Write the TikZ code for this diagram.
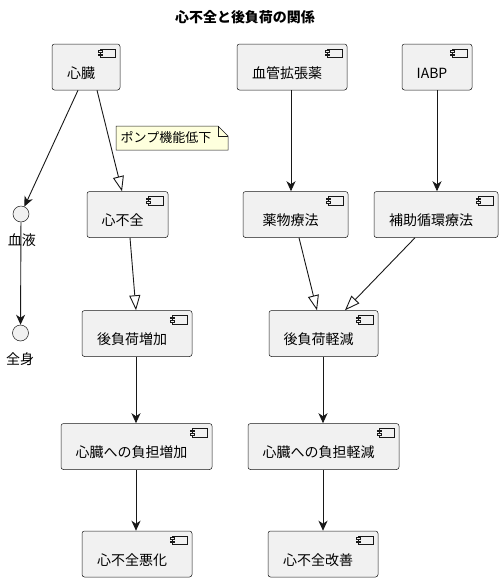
\documentclass[tikz,border=0pt]{standalone}
\usepackage{fontspec}
\setmainfont{Noto Sans CJK JP}
\usetikzlibrary{arrows.meta}
\definecolor{bfill}{HTML}{F1F1F1}
\definecolor{bline}{HTML}{181818}
\definecolor{nfill}{HTML}{FEFFDD}
\tikzset{
  comp/.style={draw=bline, fill=bfill, line width=0.5pt, rounded corners=2.5pt, minimum height=46pt, inner sep=0pt},
  lbl/.style={font=\fontsize{14}{16}\selectfont, inner sep=0pt},
  con/.style={draw=bline, line width=0.9pt},
  arr/.style={con, -{Stealth[length=10pt,width=9pt,inset=3pt]}},
  ext/.style={con, -{Triangle[open,length=15pt,width=11pt,fill=white]}},
  ifc/.style={circle, draw=bline, fill=bfill, line width=0.5pt, minimum size=16pt, inner sep=0pt},
  iconline/.style={draw=bline, line width=0.4pt, fill=bfill},
  compicon/.pic={
    \path[iconline] (-20,5) rectangle (-5,13.5);
    \path[iconline] (-22,6.7) rectangle (-18,8.2);
    \path[iconline] (-22,10.2) rectangle (-18,11.7);
  }
}
\newcommand\mkcomp[5]{%
  \node[comp, minimum width=#4pt] (#1) at (#2,#3) {};
  \node[lbl] (#1-t) at ([xshift=-5pt,yshift=-6pt]#1.center) {#5};
  \pic at (#1.north east) {compicon};
}
\begin{document}
\begin{tikzpicture}[x=1pt,y=-1pt]
\useasboundingbox (0,0) rectangle (503,582);
\node[font=\fontsize{14}{16}\selectfont\bfseries, inner sep=0pt] (title) at (245,17) {心不全と後負荷の関係};

\mkcomp{heart}{86}{67}{68}{心臓}
\mkcomp{vaso}{292}{67}{110}{血管拡張薬}
\mkcomp{iabp}{437}{67}{70}{IABP}
\mkcomp{hf}{127.5}{214.5}{81}{心不全}
\mkcomp{drug}{295.5}{214.5}{105}{薬物療法}
\mkcomp{assist}{436}{214.5}{124}{補助循環療法}
\mkcomp{alinc}{137}{333.5}{110}{後負荷増加}
\mkcomp{aldec}{323.5}{333.5}{109}{後負荷軽減}
\mkcomp{burdinc}{136.5}{446.5}{151}{心臓への負担増加}
\mkcomp{burddec}{323.5}{446.5}{151}{心臓への負担軽減}
\mkcomp{worse}{137}{554}{110}{心不全悪化}
\mkcomp{improve}{323}{554}{110}{心不全改善}

\node[ifc] (blood) at (21,214) {};
\node[lbl] (blood-t) at (22,240) {血液};
\node[ifc] (body) at (20.5,333) {};
\node[lbl] (body-t) at (20,359) {全身};

% note
\draw[bline, line width=0.5pt, fill=nfill] (116,126) -- (218,126) -- (228,136) -- (228,150) -- (116,150) -- cycle;
\draw[bline, line width=0.5pt] (218,126) -- (218,136) -- (228,136);
\node[font=\fontsize{13}{15}\selectfont, inner sep=0pt] (note) at (166,138) {ポンプ機能低下};

% connectors
\draw[arr] ([xshift=-8pt]heart.south) -- (blood);
\draw[ext] ([xshift=11pt]heart.south) -- ([xshift=-5.5pt]hf.north);
\draw[arr] (blood) -- (body);
\draw[ext] ([xshift=2.5pt]hf.south) -- ([xshift=-1pt]alinc.north);
\draw[arr] ([xshift=-1pt]alinc.south) -- ([xshift=-0.5pt]burdinc.north);
\draw[arr] ([xshift=-0.5pt]burdinc.south) -- ([xshift=-1pt]worse.north);
\draw[arr] ([xshift=-1pt]vaso.south) -- ([xshift=-4.5pt]drug.north);
\draw[arr] (iabp.south) -- ([xshift=1pt]assist.north);
\draw[ext] ([xshift=3.5pt]drug.south) -- ([xshift=-6.5pt]aldec.north);
\draw[ext] ([xshift=-21pt]assist.south) -- ([xshift=21.5pt]aldec.north);
\draw[arr] ([xshift=-0.5pt]aldec.south) -- ([xshift=-0.5pt]burddec.north);
\draw[arr] ([xshift=-0.5pt]burddec.south) -- (improve.north);
\end{tikzpicture}
\end{document}
